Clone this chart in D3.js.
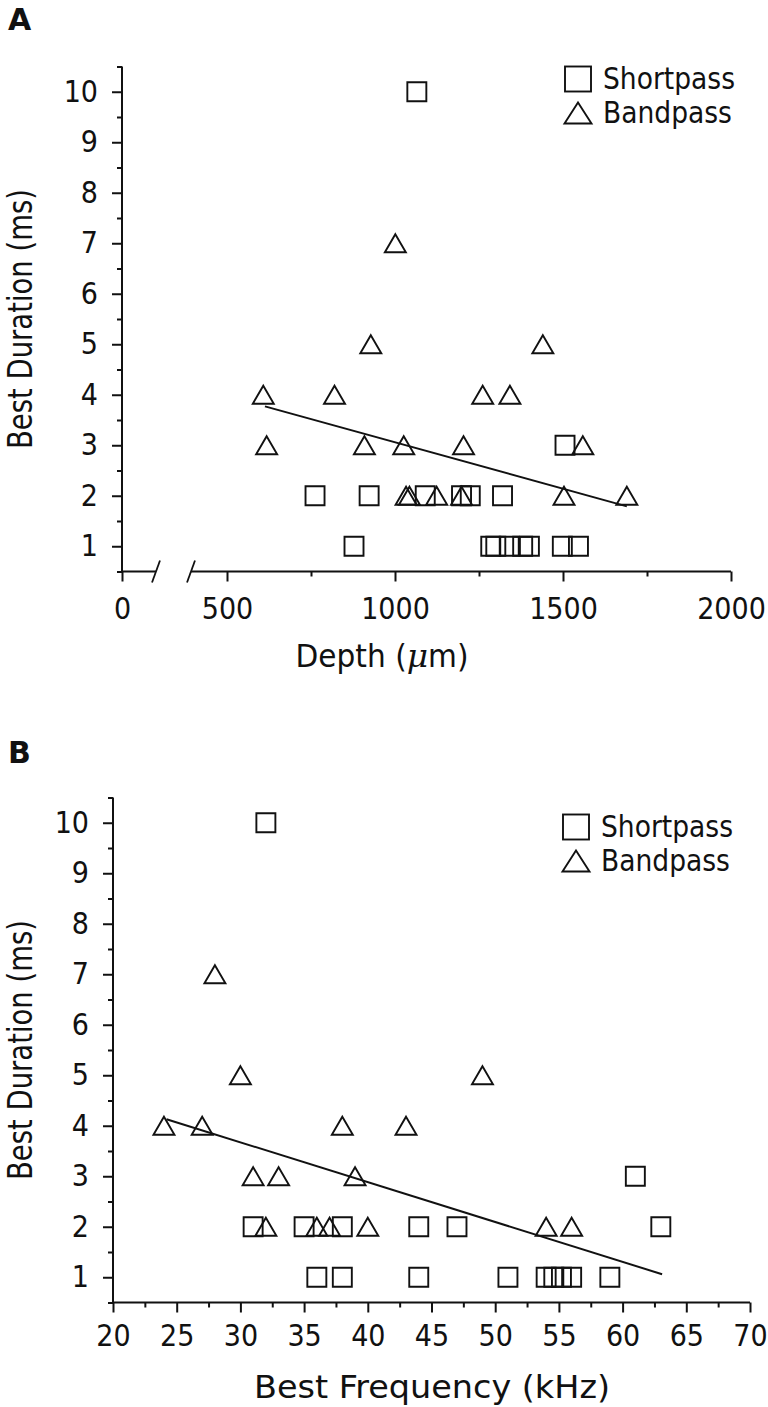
<!DOCTYPE html>
<html lang="en">
<head>
<meta charset="utf-8">
<title>Best Duration vs Depth and Best Frequency</title>
<script src="https://d3js.org/d3.v7.min.js"></script>
<style>
    body { margin: 0; background: #ffffff; }
    svg text { fill: #111; }
</style>
</head>
<body>
<div id="chart"></div>
<script>
// ---- data ----
// panel A: depth (um) vs best duration (ms)
var depthShortpass = [[1065, 10], [1506, 3], [762, 2], [923, 2], [1090, 2], [1198, 2], [1224, 2], [1320, 2],
    [878, 1], [1285, 1], [1300, 1], [1340, 1], [1380, 1], [1400, 1], [1498, 1], [1546, 1]];
var depthBandpass = [[1001, 7], [928, 5], [1440, 5], [608, 4], [820, 4], [1261, 4], [1342, 4],
    [618, 3], [909, 3], [1026, 3], [1204, 3], [1559, 3], [1033, 2], [1043, 2], [1124, 2], [1198, 2], [1503, 2], [1690, 2]];
var depthFit = [[613, 3.77], [1690, 1.79]];
var depthTicks = [0, 500, 1000, 1500, 2000];
var depthMinorTicks = [750, 1250, 1750];

// panel B: best frequency (kHz) vs best duration (ms)
var freqShortpass = [[32, 10], [61, 3], [31, 2], [35, 2], [38, 2], [44, 2], [47, 2], [63, 2],
    [36, 1], [38, 1], [44, 1], [51, 1], [54, 1], [54.6, 1], [55.2, 1], [56, 1], [59, 1]];
var freqBandpass = [[28, 7], [30, 5], [49, 5], [24, 4], [27, 4], [38, 4], [43, 4], [31, 3], [33, 3], [39, 3],
    [32, 2], [36, 2], [37, 2], [40, 2], [54, 2], [56, 2]];
var freqFit = [[24.2, 4.13], [63.1, 1.06]];
var freqTicks = [20, 25, 30, 35, 40, 45, 50, 55, 60, 65, 70];
var freqMinorTicks = [22.5, 27.5, 32.5, 37.5, 42.5, 47.5, 52.5, 57.5, 62.5, 67.5];

var durationTicks = [1, 2, 3, 4, 5, 6, 7, 8, 9, 10];
var durationMinorTicks = [0.5, 1.5, 2.5, 3.5, 4.5, 5.5, 6.5, 7.5, 8.5, 9.5, 10.5];
var legendLabels = ["Shortpass", "Bandpass"];

var width = 768, height = 1407;
var svg = d3.select("#chart").append("svg")
    .attr("width", width)
    .attr("height", height);

var ink = "#111";
var font = "'DejaVu Sans Condensed', 'DejaVu Sans', sans-serif";

function squarePath(cx, cy) {
    var h = 9.5;
    return "M" + (cx - h) + "," + (cy - h) + "h" + (2 * h) + "v" + (2 * h) + "h" + (-2 * h) + "Z";
}
function trianglePath(cx, cy, hw, ht) {
    return "M" + cx + "," + (cy - ht / 2) + "L" + (cx + hw) + "," + (cy + ht / 2) + "L" + (cx - hw) + "," + (cy + ht / 2) + "Z";
}

function drawPanel(p) {
    var g = svg.append("g");
    var x = p.x, y = p.y;

    // panel letter
    g.append("text")
        .attr("x", 8).attr("y", p.letterY)
        .style("font-size", "30px").style("font-weight", "bold")
        .style("font-family", "'DejaVu Sans', sans-serif")
        .text(p.letter);

    // y axis
    var yAxis = g.append("g").attr("transform", "translate(" + x.range()[0] + ",0)")
        .call(d3.axisLeft(y).tickValues(durationTicks).tickSize(10).tickPadding(14).tickFormat(d3.format("d")));
    var yMinor = g.append("g").attr("transform", "translate(" + x.range()[0] + ",0)")
        .call(d3.axisLeft(y).tickValues(durationMinorTicks).tickSize(5).tickFormat(""));
    yMinor.select(".domain").remove();
    yAxis.select(".domain").attr("d", "M0," + y.range()[0] + "V" + y.range()[1]);

    // x axis
    var xAxis = g.append("g").attr("transform", "translate(0," + y.range()[0] + ")")
        .call(d3.axisBottom(x).tickValues(p.xTicks).tickSize(10).tickPadding(p.xPad).tickFormat(d3.format("d")));
    var xMinor = g.append("g").attr("transform", "translate(0," + y.range()[0] + ")")
        .call(d3.axisBottom(x).tickValues(p.xMinor).tickSize(5).tickFormat(""));
    xMinor.select(".domain").remove();
    xAxis.select(".domain").remove();

    var x0 = x.range()[0], x1 = x.range()[x.range().length - 1], y0 = y.range()[0];
    if (p.breakAt) {
        // broken axis between 0 and 500
        var b1 = p.breakAt[0], b2 = p.breakAt[1];
        g.append("path").attr("d", "M" + x0 + "," + y0 + "H" + b1 + "M" + b2 + "," + y0 + "H" + x1)
            .attr("stroke", ink).attr("stroke-width", 2).attr("fill", "none");
        [b1, b2].forEach(function(b) {
            g.append("line")
                .attr("x1", b - 4).attr("y1", y0 + 11)
                .attr("x2", b + 4).attr("y2", y0 - 11)
                .attr("stroke", ink).attr("stroke-width", 1.8);
        });
    } else {
        g.append("path").attr("d", "M" + x0 + "," + y0 + "H" + x1)
            .attr("stroke", ink).attr("stroke-width", 2).attr("fill", "none");
    }

    g.selectAll(".tick line").attr("stroke", ink).attr("stroke-width", 2);
    g.selectAll(".domain").attr("stroke", ink).attr("stroke-width", 2);
    g.selectAll(".tick text")
        .attr("fill", ink)
        .style("font-size", "30px")
        .style("font-family", font);

    // axis titles
    g.append("text")
        .attr("transform", "translate(" + p.yTitleX + "," + ((y.range()[0] + y.range()[1]) / 2) + ") rotate(-90)")
        .attr("text-anchor", "middle")
        .attr("textLength", 260)
        .attr("lengthAdjust", "spacingAndGlyphs")
        .style("font-size", "33px")
        .style("font-family", font)
        .text("Best Duration (ms)");
    var xt = g.append("text")
        .attr("x", p.xTitleX).attr("y", y0 + p.xTitleDy)
        .attr("text-anchor", "middle")
        .attr("textLength", p.xTitleLen)
        .attr("lengthAdjust", "spacingAndGlyphs")
        .style("font-size", "32px")
        .style("font-family", font);
    if (p.letter == "A") {
        xt.append("tspan").text("Depth (");
        xt.append("tspan").style("font-family", "'DejaVu Serif', serif").style("font-style", "italic").text("\u03bc");
        xt.append("tspan").text("m)");
    } else {
        xt.text("Best Frequency (kHz)");
    }

    // fit line
    g.append("line")
        .attr("x1", x(p.fit[0][0])).attr("y1", y(p.fit[0][1]))
        .attr("x2", x(p.fit[1][0])).attr("y2", y(p.fit[1][1]))
        .attr("stroke", ink).attr("stroke-width", 2);

    // markers
    g.selectAll(".sq").data(p.shortpass).enter().append("path")
        .attr("class", "sq")
        .attr("d", function(d) { return squarePath(x(d[0]), y(d[1])); })
        .attr("fill", "none").attr("stroke", ink).attr("stroke-width", 1.9);
    g.selectAll(".tri").data(p.bandpass).enter().append("path")
        .attr("class", "tri")
        .attr("d", function(d) { return trianglePath(x(d[0]), y(d[1]), 10.5, 18); })
        .attr("fill", "none").attr("stroke", ink).attr("stroke-width", 1.9).attr("stroke-linejoin", "miter");

    // legend
    var lg = g.append("g").attr("transform", "translate(" + p.legend[0] + "," + p.legend[1] + ")");
    lg.append("rect").attr("x", -13).attr("y", -12.5).attr("width", 26).attr("height", 25)
        .attr("fill", "none").attr("stroke", ink).attr("stroke-width", 1.9);
    lg.append("path").attr("d", trianglePath(0, 34, 13.5, 21))
        .attr("fill", "none").attr("stroke", ink).attr("stroke-width", 1.9);
    lg.selectAll("text.lab").data(legendLabels).enter().append("text")
        .attr("class", "lab")
        .attr("x", 25).attr("y", function(d, i) { return 10 + i * 34; })
        .style("font-size", "29.5px")
        .style("font-family", font)
        .text(function(d) { return d; });
}

drawPanel({
    letter: "A", letterY: 30,
    x: d3.scaleLinear().domain([0, 500, 2000]).range([122, 227, 731]),
    y: d3.scaleLinear().domain([0.5, 10.5]).range([571.5, 66.5]),
    xTicks: depthTicks, xMinor: depthMinorTicks, xPad: 16,
    breakAt: [156, 191],
    shortpass: depthShortpass, bandpass: depthBandpass, fit: depthFit,
    yTitleX: 32, xTitleX: 382, xTitleDy: 95, xTitleLen: 173,
    legend: [578, 79]
});

drawPanel({
    letter: "B", letterY: 763,
    x: d3.scaleLinear().domain([20, 70]).range([113, 750]),
    y: d3.scaleLinear().domain([0.5, 10.5]).range([1302.5, 797.5]),
    xTicks: freqTicks, xMinor: freqMinorTicks, xPad: 12,
    breakAt: null,
    shortpass: freqShortpass, bandpass: freqBandpass, fit: freqFit,
    yTitleX: 32, xTitleX: 432, xTitleDy: 95, xTitleLen: 356,
    legend: [576, 827]
});
</script>
</body>
</html>
